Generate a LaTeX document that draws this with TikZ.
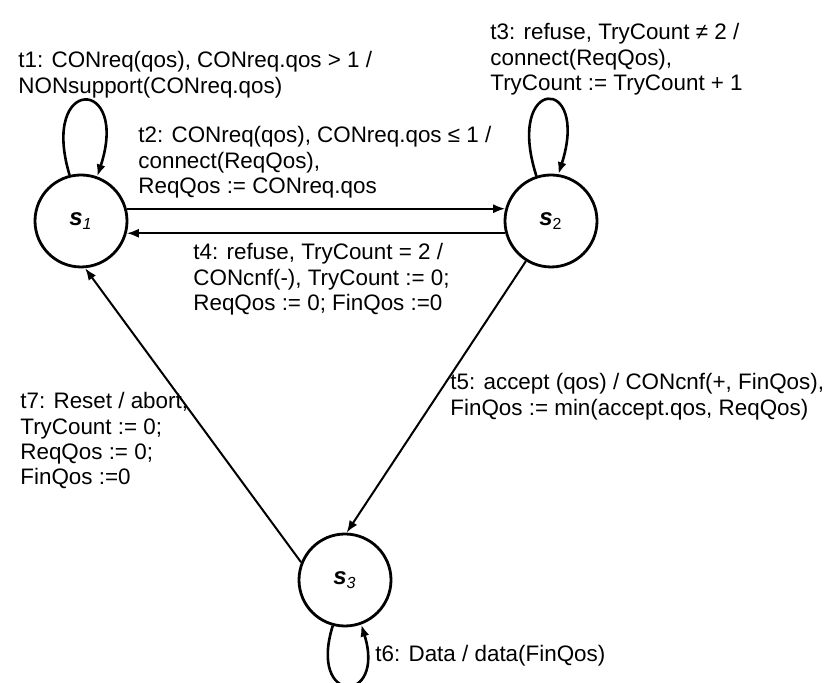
\documentclass[tikz,border=0pt]{standalone}
\usepackage{fontspec}
\setmainfont{Liberation Sans}
\usepackage{tikz}
\usetikzlibrary{arrows.meta}

\begin{document}
\begin{tikzpicture}
  [x=0.5pt,y=0.5pt,
   state/.style={circle,draw,line width=1.4pt,minimum size=46pt,inner sep=0pt,
     font=\fontsize{12}{12}\selectfont\bfseries\itshape},
   trans/.style={-{Latex[length=6pt,width=4.5pt]},line width=1pt},
   lbl/.style={anchor=north west,inner sep=0pt,align=left,
     font=\fontsize{11.2}{12.7}\selectfont}]

  \useasboundingbox (0,0) rectangle (824,683);

  \node[state] (s1) at (81,462)  {s\textsubscript{\mdseries\itshape 1}};
  \node[state] (s2) at (551,462) {s\textsubscript{\normalfont 2}};
  \node[state] (s3) at (345,103) {s\textsubscript{\mdseries\itshape 3}};

  \foreach \from/\to in {s1.15/s2.165,s2.-165/s1.-15,s2.-122/s3.88,s3.158/s1.-85}
    \draw[trans] (\from) -- (\to);

  % self loops
  \draw[trans,line width=1.3pt] (s1.104) .. controls +(-30,100) and +(33,100) .. (s1.70);
  \draw[trans,line width=1.3pt] (s2.108) .. controls +(-32,100) and +(32,100) .. (s2.81);
  \draw[trans,line width=1.3pt] (s3.-105) .. controls +(-25,-80) and +(25,-80) .. (s3.-70);

  \node[lbl] (t1) at (18,632) {t1: CONreq(qos), CONreq.qos > 1 /\\NONsupport(CONreq.qos)};
  \node[lbl] (t2) at (138,557) {t2: CONreq(qos), CONreq.qos ≤ 1 /\\connect(ReqQos),\\ReqQos := CONreq.qos};
  \node[lbl] (t3) at (490,660) {t3: refuse, TryCount ≠ 2 /\\connect(ReqQos),\\TryCount := TryCount + 1};
  \node[lbl] (t4) at (193,440) {t4: refuse, TryCount = 2 /\\CONcnf(-), TryCount := 0;\\ReqQos := 0; FinQos :=0};
  \node[lbl] (t5) at (450,310) {t5: accept (qos) / CONcnf(+, FinQos),\\FinQos := min(accept.qos, ReqQos)};
  \node[lbl] (t6) at (375,38)  {t6: Data / data(FinQos)};
  \node[lbl] (t7) at (20,291)  {t7: Reset / abort,\\TryCount := 0;\\ReqQos := 0;\\FinQos :=0};
\end{tikzpicture}
\end{document}
